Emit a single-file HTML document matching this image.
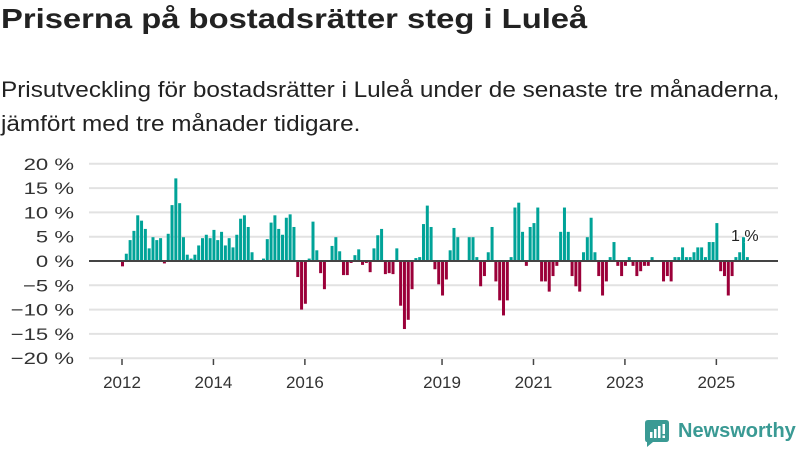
<!DOCTYPE html>
<html><head><meta charset="utf-8">
<style>
body{margin:0;width:800px;height:450px;background:#fff;overflow:hidden;font-family:"Liberation Sans","DejaVu Sans",sans-serif;color:#222}
#title{position:absolute;left:1px;top:3px;font-size:28px;font-weight:bold;margin:0;white-space:nowrap;transform:scaleX(1.17);transform-origin:0 0}
#sub{position:absolute;left:1px;top:73px;font-size:22px;line-height:34px;color:#222;white-space:nowrap;transform:scaleX(1.105);transform-origin:0 0}
svg{position:absolute;left:0;top:0}
</style></head><body>
<h1 id="title">Priserna på bostadsrätter steg i Luleå</h1>
<div id="sub">Prisutveckling för bostadsrätter i Luleå under de senaste tre månaderna,<br>jämfört med tre månader tidigare.</div>
<svg id="chart" width="800" height="450"></svg>
<div style="position:absolute;left:645px;top:420px;">
<svg width="26" height="28" style="position:absolute;left:0;top:0"><path d="M3 0H21Q24 0 24 3V19Q24 22 21 22H8L2 27V22Q0 22 0 19V3Q0 0 3 0Z" fill="#3a9a94"/><rect x="5" y="12" width="2.5" height="6" fill="#fff"/><rect x="9" y="9" width="2.5" height="9" fill="#fff"/><rect x="13" y="6" width="2.5" height="12" fill="#fff"/><rect x="17.5" y="4" width="2.5" height="10" fill="#fff"/><rect x="17.5" y="15.5" width="2.5" height="2.5" fill="#fff"/></svg>
<span style="position:absolute;left:33px;top:0px;font-size:20px;font-weight:bold;color:#3a9a94;white-space:nowrap">Newsworthy</span>
</div>
<script>
const values = [-1.1,1.5,4.3,6.2,9.4,8.3,6.6,2.6,4.9,4.3,4.7,-0.5,
5.6,11.5,17.0,11.9,4.9,1.3,0.5,1.3,3.2,4.7,5.4,4.7,
6.4,4.3,6.0,3.2,4.7,2.8,5.4,8.7,9.4,7.0,1.8,0,
0,0.5,4.5,7.9,9.4,6.6,5.4,8.9,9.6,7.0,-3.3,-10.0,
-8.8,0.5,8.1,2.2,-2.5,-5.8,0,3.1,4.9,2.0,-2.9,-2.9,
-0.4,1.2,2.4,-0.8,-0.4,-2.3,2.6,5.3,6.6,-2.7,-2.5,-2.7,
2.6,-9.2,-14.0,-12.1,-5.8,0.6,0.8,7.6,11.4,7.0,-1.7,-4.8,
-7.1,-3.8,2.2,6.8,4.9,0,0,4.9,4.9,0.8,-5.2,-3.1,
1.8,7.0,-4.2,-8.1,-11.2,-8.1,0.8,11.0,12.0,6.0,-1.0,7.0,
7.8,11.0,-4.2,-4.2,-6.3,-3.1,-1.0,6.0,11.0,6.0,-3.1,-5.2,
-6.3,1.8,4.9,8.9,1.8,-3.1,-7.1,-4.2,0.8,3.9,-1.0,-3.1,
-1.0,0.8,-1.0,-3.1,-2.1,-1.0,-1.0,0.8,0,0,-4.2,-3.1,
-4.2,0.8,0.8,2.8,0.8,0.8,1.8,2.8,2.8,0.8,3.9,3.9,
7.8,-2.1,-3.1,-7.1,-3.1,0.8,1.8,4.9,0.8];
const startYear = 2012;
const yTicks = [20,15,10,5,0,-5,-10,-15,-20];
const xTickYears = [2012,2014,2016,2019,2021,2023,2025];
const lastLabel = "1 %";

const svg = document.getElementById('chart');
const NS = 'http://www.w3.org/2000/svg';
const plotL = 89, plotR = 778, monthW = 3.81, x0 = 121;
function x(i){ return x0 + i*monthW; }
function y(v){ return 261 - v*4.86; }
function mk(tag, attrs, parent){ const e=document.createElementNS(NS,tag); for(const k in attrs) e.setAttribute(k,attrs[k]); (parent||svg).appendChild(e); return e; }

const yg = mk('g',{transform:'translate(74,0) scale(1.3,1) translate(-74,0)'});


yTicks.forEach(t=>{
  const g = mk('line',{x1:plotL,x2:plotR,y1:y(t),y2:y(t),stroke:'#e2e2e2','stroke-width':2});
  
  
  const lb = mk('text',{x:74,y:y(t)+6,'text-anchor':'end','font-size':17,fill:'#333'}, yg);
  lb.textContent = (t<0?'\u2212'+(-t):t)+' %';
  
  
});
values.forEach((v,i)=>{
  if(v===0) return;
  const r = mk('rect',{x:x(i),width:3,y:Math.min(y(v),y(0)),height:Math.abs(y(v)-y(0)),fill:v>0?'#00a398':'#9b0039'});
  
  
});
const zl = mk('line',{x1:plotL,x2:plotR,y1:y(0),y2:y(0),stroke:'#444','stroke-width':2});


xTickYears.forEach(yr=>{
  const i=(yr-startYear)*12;
  const tk = mk('line',{x1:x(i)+1,x2:x(i)+1,y1:359,y2:365,stroke:'#444','stroke-width':1.5});
  
  
  const t = mk('text',{x:x(i)+1,y:388,'text-anchor':'middle','font-size':17,fill:'#333'});
  t.textContent = yr;
  
  
});
const li = values.length-1;
const ll = mk('text',{x:x(li)-1,y:241,'text-anchor':'middle','font-size':16,fill:'#222',stroke:'#fff','stroke-width':3,'paint-order':'stroke'});
ll.textContent = lastLabel;


</script>
</body></html>
